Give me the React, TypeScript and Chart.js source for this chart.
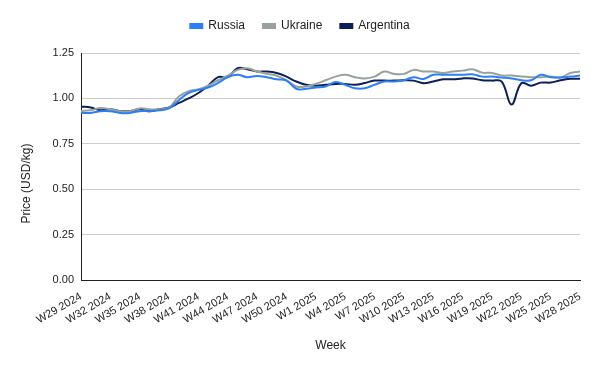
import React, { useEffect, useRef } from "react";
import { Chart, registerables } from "chart.js";

Chart.register(...registerables);

const weeks2024 = ["W29","W30","W31","W32","W33","W34","W35","W36","W37","W38","W39","W40","W41","W42","W43","W44","W45","W46","W47","W48","W49","W50","W51","W52"].map(w => w + " 2024");
const weeks2025 = ["W1","W2","W3","W4","W5","W6","W7","W8","W9","W10","W11","W12","W13","W14","W15","W16","W17","W18","W19","W20","W21","W22","W23","W24","W25","W26","W27","W28"].map(w => w + " 2025");
const categories = [...weeks2024, ...weeks2025];

const russia = [0.92,0.92,0.93,0.93,0.92,0.92,0.93,0.93,0.935,0.945,0.99,1.03,1.047,1.06,1.085,1.117,1.13,1.117,1.124,1.117,1.105,1.098,1.053,1.053,1.06,1.066,1.09,1.075,1.056,1.056,1.075,1.093,1.093,1.10,1.117,1.107,1.13,1.13,1.13,1.13,1.133,1.12,1.12,1.115,1.11,1.10,1.10,1.13,1.117,1.115,1.12,1.126];
const ukraine = [0.93,0.935,0.947,0.94,0.93,0.93,0.945,0.94,0.94,0.95,1.01,1.04,1.05,1.07,1.10,1.125,1.157,1.166,1.148,1.135,1.125,1.10,1.066,1.066,1.08,1.10,1.12,1.13,1.117,1.11,1.12,1.148,1.135,1.135,1.157,1.148,1.148,1.14,1.148,1.153,1.16,1.142,1.14,1.126,1.126,1.12,1.117,1.117,1.12,1.115,1.14,1.148];
const argentina = [0.956,0.95,0.935,0.94,0.93,0.93,0.94,0.93,0.94,0.95,0.975,1.00,1.03,1.07,1.117,1.117,1.166,1.16,1.148,1.148,1.14,1.12,1.093,1.075,1.07,1.075,1.08,1.08,1.075,1.085,1.098,1.098,1.098,1.10,1.098,1.084,1.093,1.105,1.105,1.11,1.11,1.10,1.098,1.093,0.966,1.084,1.07,1.087,1.087,1.10,1.108,1.108];

const yTicks = [0, 0.25, 0.5, 0.75, 1.0, 1.25];
const yTitle = "Price (USD/kg)";
const FAMILY = "'Liberation Sans', Arial, sans-serif";

const legendMargin = {
  id: "legendMargin",
  beforeInit(chart: any) {
    const orig = chart.legend.fit;
    chart.legend.fit = function () {
      orig.bind(chart.legend)();
      this.height += 11;
    };
  },
};

const yTitlePlugin = {
  id: "yTitlePlugin",
  afterDraw(chart: any) {
    const ctx = chart.ctx;
    const area = chart.chartArea;
    ctx.save();
    ctx.translate(27, area.top + (area.bottom - area.top) * 0.575);
    ctx.rotate(-Math.PI / 2);
    ctx.font = `12px ${FAMILY}`;
    ctx.fillStyle = "#222";
    ctx.textAlign = "center";
    ctx.textBaseline = "middle";
    ctx.fillText(yTitle, 0, 0);
    ctx.restore();
  },
};

export default function App() {
  const ref = useRef<HTMLCanvasElement | null>(null);
  useEffect(() => {
    if (!ref.current) return;
    const font = { family: FAMILY, size: 12 };
    const tickFont = { family: FAMILY, size: 11 };
    const chart = new Chart(ref.current, {
      type: "line",
      data: {
        labels: categories,
        datasets: [
          { label: "Russia", data: russia, borderColor: "#2d7ff5", backgroundColor: "#2d7ff5", borderWidth: 2, pointRadius: 0, tension: 0.4 },
          { label: "Ukraine", data: ukraine, borderColor: "#98a29b", backgroundColor: "#98a29b", borderWidth: 2, pointRadius: 0, tension: 0.4 },
          { label: "Argentina", data: argentina, borderColor: "#0c1f56", backgroundColor: "#0c1f56", borderWidth: 2, pointRadius: 0, tension: 0.4 },
        ],
      },
      plugins: [legendMargin, yTitlePlugin],
      options: {
        animation: false,
        responsive: true,
        maintainAspectRatio: false,
        layout: { padding: { left: 20, right: 20, top: 2, bottom: 14 } },
        plugins: {
          legend: {
            position: "top",
            labels: { font, color: "#222", boxWidth: 12, boxHeight: 4, padding: 18 },
          },
          tooltip: { enabled: false },
        },
        scales: {
          x: {
            offset: false,
            grid: { display: false },
            border: { display: true, color: "#222", width: 1 },
            ticks: {
              autoSkip: false,
              minRotation: 30,
              maxRotation: 30,
              font: tickFont,
              color: "#222",
              padding: 2,
              callback: (_v: any, i: number) => (i % 3 === 0 ? categories[i] : ""),
            },
            title: { display: true, text: "Week", font, color: "#222", padding: { top: 10 } },
          },
          y: {
            min: 0,
            max: 1.25,
            afterFit: (axis: any) => { axis.width = 61; },
            afterBuildTicks: (axis: any) => { axis.ticks = yTicks.map(v => ({ value: v })); },
            grid: { color: "#cccccc", drawTicks: false },
            border: { display: true, color: "#222", width: 1 },
            ticks: { font: tickFont, color: "#222", padding: 7, callback: (v: any) => Number(v).toFixed(2) },
          },
        },
      },
    });
    return () => chart.destroy();
  }, []);
  return (
    <div style={{ position: "fixed", left: 0, top: 0, width: 600, height: 371, background: "#fff" }}>
      <canvas ref={ref} />
    </div>
  );
}
